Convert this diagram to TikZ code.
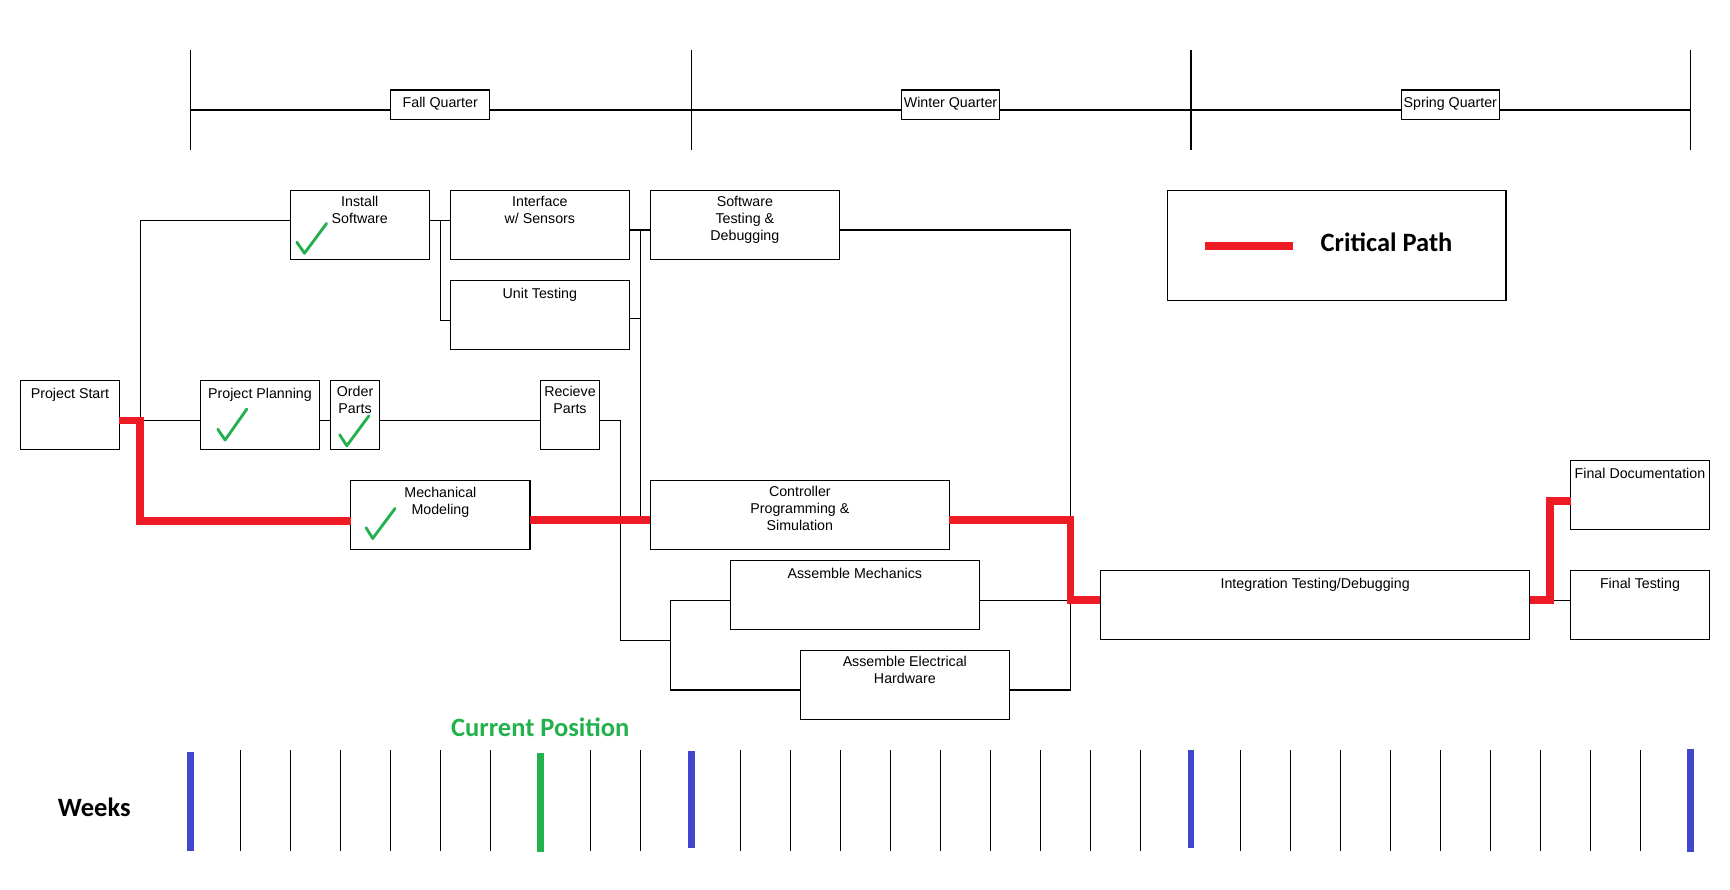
\documentclass[tikz,border=0pt]{standalone}
\usepackage{fontspec}
\setmainfont{Liberation Sans}
\newfontfamily\califont{Carlito}
\definecolor{critred}{HTML}{ED1C24}
\definecolor{chkgreen}{HTML}{22B14C}
\definecolor{blueq}{HTML}{3F48CC}
\newcommand\nodefont{\fontsize{12.9}{15.4}\selectfont}
\newcommand\bigfont{\califont\bfseries\fontsize{24}{28}\selectfont}
\begin{document}
\begin{tikzpicture}[x=1pt,y=-1pt,
  box/.style={draw=black, line width=1.1pt, fill=white, rectangle, anchor=north west, inner sep=0pt, outer sep=0pt},
  basetext/.style={anchor=north, inner sep=0pt, outer sep=0pt, align=center, font=\nodefont, execute at begin node=\strut},
  boxtext/.style={basetext, yshift=-5.6pt},
  qtext/.style={basetext, yshift=-4.6pt},
  conn/.style={draw=black, line width=1pt},
  crit/.style={draw=critred, line width=7pt},
  chk/.style={draw=chkgreen, line width=2.6pt, line cap=round, line join=round},
  wk/.style={draw=black, line width=1pt},
  qline/.style={draw=blueq, line width=6pt},
  nowline/.style={draw=chkgreen, line width=6pt},
  bigtext/.style={font=\bigfont, inner sep=0pt, outer sep=0pt}]
\useasboundingbox (0,0) rectangle (1568,806.6);

% ---------- quarter timeline ----------
\foreach \qx in {172.5,626.5,1079.5,1532}{\draw[conn] (\qx,45.3) -- (\qx,136);}
\draw[conn] (172.5,99.7) -- (1532,99.7);
\node[box, minimum width=90pt, minimum height=26.4pt, label={[qtext,name=fqT]north:{Fall Quarter}}] (fq) at (354,81.6) {};
\node[box, minimum width=89pt, minimum height=26.4pt, label={[qtext,name=wqT]north:{Winter Quarter}}] (wq) at (817,81.6) {};
\node[box, minimum width=89pt, minimum height=26.4pt, label={[qtext,name=sqT]north:{Spring Quarter}}] (sq) at (1270,81.6) {};

% ---------- task boxes ----------
\node[box, minimum width=89.6pt, minimum height=62.5pt, label={[boxtext,name=psT]north:{Project Start}}] (ps) at (18.6,344.8) {};
\node[box, minimum width=126.2pt, minimum height=62.5pt, label={[boxtext,name=isT]north:{Install\\Software}}] (is) at (263,172.5) {};
\node[box, minimum width=162.2pt, minimum height=62.5pt, label={[boxtext,name=iwsT]north:{Interface\\w/ Sensors}}] (iws) at (408.2,172.5) {};
\node[box, minimum width=162.2pt, minimum height=62.6pt, label={[boxtext,name=utT]north:{Unit Testing}}] (ut) at (408.2,254) {};
\node[box, minimum width=171.2pt, minimum height=62.5pt, label={[boxtext,name=stT]north:{Software\\Testing \&\\Debugging}}] (st) at (589.5,172.5) {};
\node[box, minimum width=107.9pt, minimum height=62.5pt, label={[boxtext,name=ppT]north:{Project Planning}}] (pp) at (181.7,344.8) {};
\node[box, minimum width=44.3pt, minimum height=62.5pt, label={[boxtext,name=opT]north:{Order\\Parts}}] (op) at (299.7,344.8) {};
\node[box, minimum width=53.2pt, minimum height=62.5pt, label={[boxtext,name=rpT]north:{Recieve\\Parts}}] (rp) at (490,344.8) {};
\node[box, minimum width=162.5pt, minimum height=62pt, label={[boxtext,name=mmT]north:{Mechanical\\Modeling}}] (mm) at (317.9,435.7) {};
\node[box, minimum width=270.9pt, minimum height=62.4pt, label={[boxtext,name=cpsT]north:{Controller\\Programming \&\\Simulation}}] (cps) at (589.5,435.5) {};
\node[box, minimum width=225.6pt, minimum height=62.4pt, label={[boxtext,name=amT]north:{Assemble Mechanics}}] (am) at (662,508) {};
\node[box, minimum width=189.4pt, minimum height=62.5pt, label={[boxtext,name=aeT]north:{Assemble Electrical\\Hardware}}] (ae) at (725.4,589.5) {};
\node[box, minimum width=389.2pt, minimum height=62.5pt, label={[boxtext,name=itdT]north:{Integration Testing/Debugging}}] (itd) at (997.4,517) {};
\node[box, minimum width=125.8pt, minimum height=62.5pt, label={[boxtext,name=fdT]north:{Final Documentation}}] (fd) at (1423.5,417.3) {};
\node[box, minimum width=125.8pt, minimum height=62.5pt, label={[boxtext,name=ftT]north:{Final Testing}}] (ft) at (1423.5,517) {};

% ---------- black connectors ----------
\draw[conn] (ps.east |- 0,381) -- (pp.west |- 0,381);
\draw[conn] (ps.east |- 0,381) -- ++(19,0) |- (is.west |- 0,199.7);
\draw[conn] (pp.east |- 0,381) -- (op.west |- 0,381);
\draw[conn] (op.east |- 0,381) -- (rp.west |- 0,381);
\draw[conn] (rp.east |- 0,381) -| (562.3,580.4) -- (607.6,580.4);
\draw[conn] (am.west |- 0,544.1) -- ++(-54.4,0) |- (ae.west |- 0,625.4);
\draw[conn] (is.east |- 0,199.7) -- (iws.west |- 0,199.7);
\draw[conn] (is.east |- 0,199.7) -- ++(10,0) |- (ut.west |- 0,290.4);
\draw[conn] (iws.east |- 0,208.5) -- (st.west |- 0,208.5);
\draw[conn] (ut.east |- 0,289) -- ++(10,0);
\draw[conn] (iws.east |- 0,208.5) -- ++(10,0) |- (cps.west |- 0,471);
\draw[conn] (st.east |- 0,208.5) -| (970.2,625.4) -- (ae.east |- 0,625.4);
\draw[conn] (am.east |- 0,544.1) -- (970.2,544.1);
\draw[conn] (itd.east |- 0,544.2) -- (ft.west |- 0,544.2);

% ---------- critical path ----------
\draw[crit] (ps.east |- 0,381) -- (127.2,381) -- (127.2,472.5) -- (mm.west |- 0,472.5);
\draw[crit] (mm.east |- 0,471.3) -- (cps.west |- 0,471.3);
\draw[crit] (cps.east |- 0,471.3) -| (970.2,543.5) -- (itd.west |- 0,543.5);
\draw[crit] (itd.east |- 0,544) -| (1404.6,454) -- (fd.west |- 0,454);

% ---------- check marks ----------
\draw[chk, shift={(is.north west)}] (6,47) -- (13,57) -- (33,30);
\draw[chk, shift={(pp.north west)}] (15.7,44.2) -- (22.3,54) -- (42,26);
\draw[chk, shift={(op.north west)}] (8.2,49.3) -- (14.6,59.2) -- (34.6,32.2);
\draw[chk, shift={(mm.north west)}] (13.9,42.6) -- (19.9,52.3) -- (40.2,25.1);

% ---------- legend ----------
\node[box, minimum width=307pt, minimum height=99pt] (leg) at (1058,173) {};
\draw[crit] (1092,223) -- (1172,223);
\node[bigtext, anchor=base west] (legT) at (1197,227.6) {Critical Path};

% ---------- weeks ----------
\node[bigtext, text=chkgreen, anchor=base] (cur) at (489.7,667.7) {Current Position};
\node[bigtext, anchor=base west] (wks) at (52.4,740.2) {Weeks};
\foreach \i in {1,2,...,6,8,9,11,12,...,19,21,22,...,29}{
  \draw[wk] ({172.5+\i*45.317},680) -- ({172.5+\i*45.317},771);
}
\draw[qline] (172.5,682) -- (172.5,771);
\draw[qline] (626.5,681) -- (626.5,769);
\draw[qline] (1079.5,680) -- (1079.5,769);
\draw[qline] (1532,679) -- (1532,772);
\draw[nowline] (489.7,682.6) -- (489.7,772);
\end{tikzpicture}
\end{document}
